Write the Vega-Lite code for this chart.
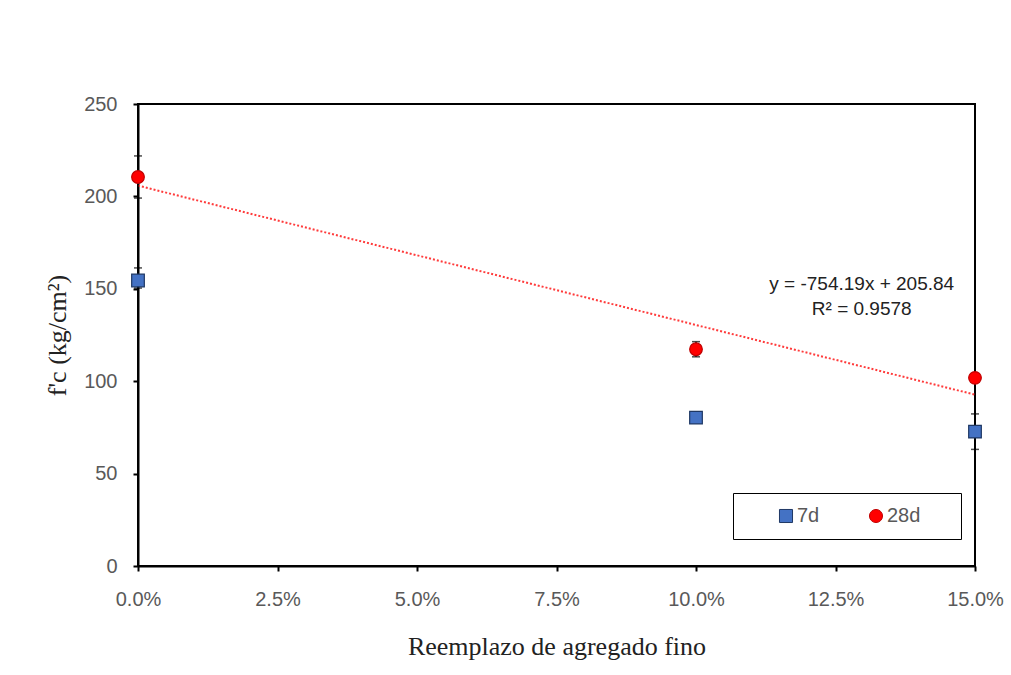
{
  "$schema": "https://vega.github.io/schema/vega-lite/v6.json",
  "width": 837,
  "height": 462,
  "autosize": "none",
  "padding": {"left": 138, "top": 104, "right": 36, "bottom": 109},
  "background": "white",
  "config": {
    "view": {"stroke": "black", "strokeWidth": 2},
    "scale": {"continuousPadding": 0},
    "axis": {"grid": false, "labelFont": "Liberation Sans", "labelFontSize": 20, "labelColor": "#595959", "labelFlush": false, "titleFont": "Liberation Serif", "titleFontSize": 26, "titleFontWeight": "normal", "titleColor": "#222222", "domainColor": "black", "domainWidth": 2, "tickColor": "black", "tickSize": 5, "tickWidth": 2}
  },
  "datasets": {
    "pts": [
      {"reemplazo": 0.0, "edad": "7d", "fc": 154.5, "lo": 150.4, "hi": 161.3},
      {"reemplazo": 0.1, "edad": "7d", "fc": 80.3, "lo": 79.0, "hi": 81.6},
      {"reemplazo": 0.15, "edad": "7d", "fc": 72.7, "lo": 63.1, "hi": 82.3},
      {"reemplazo": 0.0, "edad": "28d", "fc": 210.5, "lo": 199.1, "hi": 221.9},
      {"reemplazo": 0.1, "edad": "28d", "fc": 117.3, "lo": 113.2, "hi": 121.4},
      {"reemplazo": 0.15, "edad": "28d", "fc": 101.8, "lo": 100.2, "hi": 103.4}
    ],
    "trend": [
      {"reemplazo": 0.0, "fc": 205.84},
      {"reemplazo": 0.15, "fc": 92.71}
    ],
    "eq": [
      {"texto": "y = -754.19x + 205.84\nR² = 0.9578"}
    ]
  },
  "layer": [
    {
      "data": {"name": "trend"},
      "mark": {"type": "line", "color": "#FF3B3B", "strokeWidth": 2, "strokeDash": [2, 2]},
      "encoding": {
        "x": {"field": "reemplazo", "type": "quantitative", "scale": {"domain": [0, 0.15], "padding": 0, "nice": false},
          "axis": {"values": [0, 0.025, 0.05, 0.075, 0.1, 0.125, 0.15], "format": ".1%", "title": "Reemplazo de agregado fino", "titlePadding": 24, "labelPadding": 18}},
        "y": {"field": "fc", "type": "quantitative", "scale": {"domain": [0, 250], "padding": 0, "nice": false},
          "axis": {"values": [0, 50, 100, 150, 200, 250], "title": "f'c (kg/cm²)", "titleX": -68, "titleY": 231, "titleAngle": -90, "titleBaseline": "bottom", "titleAlign": "center", "labelPadding": 16}}
      }
    },
    {
      "data": {"name": "pts"},
      "mark": {"type": "errorbar", "ticks": {"size": 8, "color": "black"}, "color": "black", "thickness": 1.5},
      "encoding": {
        "x": {"field": "reemplazo", "type": "quantitative", "title": "Reemplazo de agregado fino"},
        "y": {"field": "lo", "type": "quantitative", "title": "f'c (kg/cm²)"},
        "y2": {"field": "hi"}
      }
    },
    {
      "data": {"name": "pts"},
      "mark": {"type": "point", "filled": true, "size": 160, "opacity": 1, "strokeWidth": 1.2},
      "encoding": {
        "x": {"field": "reemplazo", "type": "quantitative", "title": "Reemplazo de agregado fino"},
        "y": {"field": "fc", "type": "quantitative", "title": "f'c (kg/cm²)"},
        "color": {"field": "edad", "type": "nominal", "scale": {"domain": ["7d", "28d"], "range": ["#4472C4", "#FF0000"]},
          "legend": {"title": "MM", "titleOrient": "right", "titleColor": "white", "titleFontSize": 12, "titlePadding": 8, "orient": "none", "legendX": 595, "legendY": 389, "direction": "horizontal", "strokeColor": "black", "padding": 13, "symbolOffset": 30, "labelOffset": 1, "labelFont": "Liberation Sans", "labelFontSize": 20, "labelColor": "#595959", "symbolSize": 170, "columnPadding": 16, "symbolStrokeWidth": 1}},
        "shape": {"field": "edad", "type": "nominal", "scale": {"domain": ["7d", "28d"], "range": ["square", "circle"]}},
        "stroke": {"field": "edad", "type": "nominal", "scale": {"domain": ["7d", "28d"], "range": ["#1F3864", "#C00000"]}, "legend": null}
      }
    },
    {
      "data": {"name": "eq"},
      "mark": {"type": "text", "font": "Liberation Sans", "fontSize": 19, "color": "#222222", "align": "center", "lineBreak": "\n", "lineHeight": 25, "baseline": "middle"},
      "encoding": {
        "x": {"datum": 0.1297},
        "y": {"datum": 152.6},
        "text": {"field": "texto", "type": "nominal"}
      }
    }
  ]
}
